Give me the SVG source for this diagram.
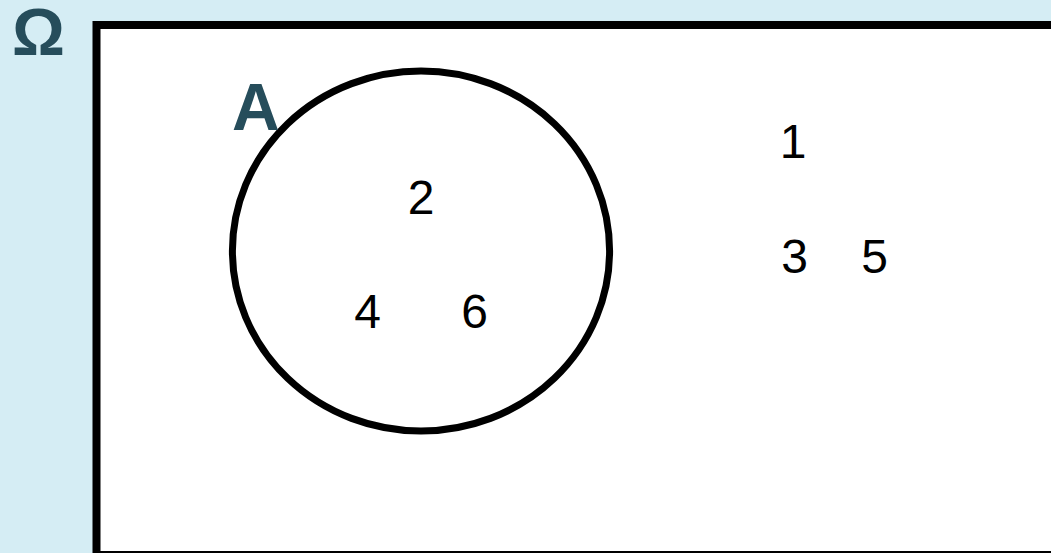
<svg xmlns="http://www.w3.org/2000/svg" width="1051" height="553" viewBox="0 0 1051 553">
<style>
.lbl{font-family:"Liberation Sans",Arial,sans-serif;font-weight:bold;font-size:66px;fill:#264d5b}
.num{font-family:"Liberation Sans",Arial,sans-serif;font-size:48px;fill:#000;text-anchor:middle}
</style>
<rect x="0" y="0" width="1051" height="553" fill="#d5edf4"/>
<g id="universe">
<rect x="96.5" y="25" width="1000" height="530" fill="#fff" stroke="#000" stroke-width="8"/>
<text class="lbl" x="12" y="55">Ω</text>
</g>
<g id="setA">
<ellipse cx="421" cy="251" rx="188.6" ry="180" fill="none" stroke="#000" stroke-width="7"/>
<text class="lbl" x="232" y="130">A</text>
</g>
<g id="elements">
<text class="num" x="421" y="214">2</text>
<text class="num" x="367.5" y="328">4</text>
<text class="num" x="474.5" y="328">6</text>
<text class="num" x="793" y="158">1</text>
<text class="num" x="794.5" y="273">3</text>
<text class="num" x="874.5" y="273">5</text>
</g>
<g id="connectors"></g>
</svg>
